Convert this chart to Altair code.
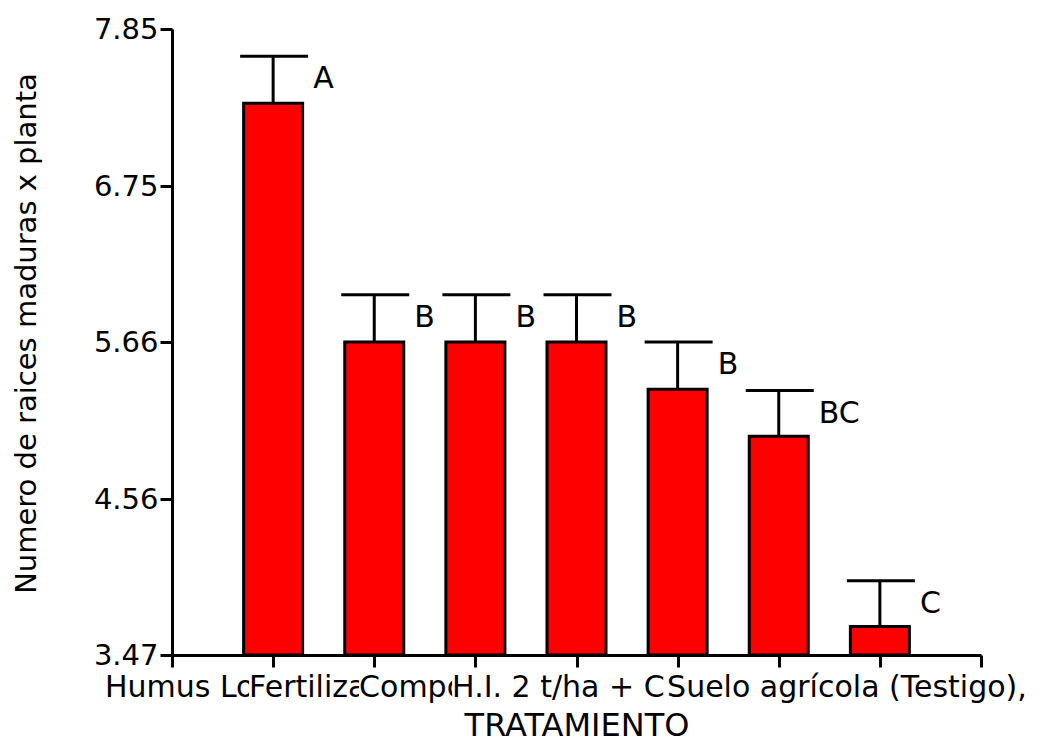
import altair as alt
import pandas as pd

# ---- data ----
posicion = [1, 2, 3, 4, 5, 6, 7]
media = [7.33, 5.66, 5.66, 5.66, 5.33, 5.00, 3.67]
error = [0.33, 0.33, 0.33, 0.33, 0.33, 0.32, 0.32]
letras = ["A", "B", "B", "B", "B", "BC", "C"]

etiquetas = ["Humus Lo", "Fertiliza", "Compo", "H.I. 2 t/ha + C", "Suelo agrícola (Testigo),"]
inicio_etiqueta = [-0.663, 0.762, 1.850, 2.770, 4.896]

y_ticks = [3.47, 4.56, 5.66, 6.75, 7.85]
x_ticks = [0, 1, 2, 3, 4, 5, 6, 7, 8]

FONT = "DejaVu Sans"
W, H = 809, 626

df = pd.DataFrame({"pos": posicion, "media": media, "err": error, "letra": letras})
df["sup"] = df["media"] + df["err"]
lab = pd.DataFrame({"label": etiquetas, "start": inicio_etiqueta, "k": list(range(len(etiquetas)))})

xs = alt.Scale(domain=[0, 8], nice=False, zero=False, padding=0)
ys = alt.Scale(domain=[3.47, 7.85], nice=False, zero=False, padding=0)

x_axis = alt.Axis(values=x_ticks, labels=False, tickSize=12, tickWidth=3, tickColor="black",
                  domainWidth=3, domainColor="black", grid=False,
                  title="TRATAMIENTO", titleFont=FONT, titleFontSize=32, titleFontWeight="normal",
                  titleColor="black", titleY=80, titleBaseline="alphabetic")
y_axis = alt.Axis(values=y_ticks, format=".2f", labelFont=FONT, labelFontSize=29, labelColor="black",
                  labelPadding=2, tickSize=12, tickWidth=3, tickColor="black",
                  domainWidth=3, domainColor="black", grid=False,
                  title="Numero de raices maduras x planta", titleFont=FONT, titleFontSize=29,
                  titleFontWeight="normal", titleColor="black", titleX=-137, titleY=304,
                  titleBaseline="alphabetic", titleAngle=270, titleAlign="center")

base = alt.Chart(df)

bars = base.mark_bar(size=59, fill="#ff0000", stroke="black", strokeWidth=3, opacity=1).encode(
    x=alt.X("pos:Q", scale=xs, axis=x_axis),
    y=alt.Y("media:Q", scale=ys, axis=y_axis),
    y2=alt.datum(3.47),
)
err_line = base.mark_rule(color="black", strokeWidth=3, opacity=1).encode(
    x=alt.X("pos:Q", scale=xs), y=alt.Y("media:Q", scale=ys), y2="sup:Q")
caps = base.mark_tick(orient="horizontal", size=68, thickness=3, color="black", opacity=1,
                      xOffset=1).encode(
    x=alt.X("pos:Q", scale=xs), y=alt.Y("sup:Q", scale=ys))
letters = base.mark_text(align="left", baseline="alphabetic", dx=40, dy=32, font=FONT,
                         fontSize=30, color="black").encode(
    x=alt.X("pos:Q", scale=xs), y=alt.Y("sup:Q", scale=ys), text="letra:N")

layers = [bars, err_line, caps, letters]
for k in range(len(etiquetas)):
    lb = alt.Chart(lab).transform_filter(f"datum.k == {k}")
    layers.append(lb.mark_rect(fill="white", strokeWidth=0, opacity=1).encode(
        x=alt.X("start:Q", scale=xs), x2=alt.value(W + 65),
        y=alt.value(H + 13), y2=alt.value(H + 50)))
    layers.append(lb.mark_text(align="left", baseline="alphabetic", font=FONT, fontSize=30,
                               color="black").encode(
        x=alt.X("start:Q", scale=xs), y=alt.value(H + 42), text="label:N"))

chart = alt.layer(*layers).properties(
    width=W, height=H,
    padding={"left": 164, "top": 21, "right": 65, "bottom": 81},
    autosize=alt.AutoSizeParams(type="none"),
    background="white",
).configure_view(strokeWidth=0)

chart.save("out.html", embed_options={"renderer": "svg", "actions": False})
